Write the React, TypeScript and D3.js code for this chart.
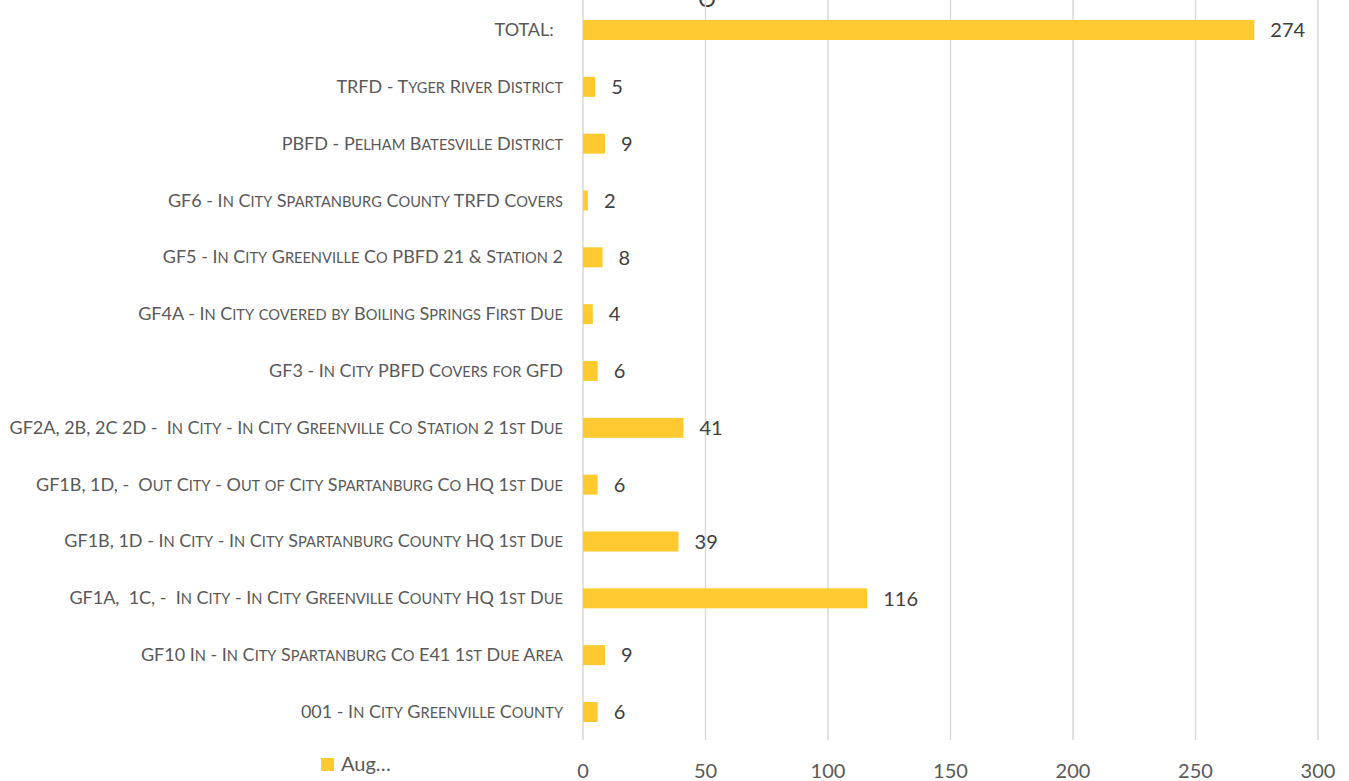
import React, { useEffect, useRef } from "react";
import * as d3 from "d3";

// rows from top to bottom
const categories = [
  "TOTAL:  ",
  "TRFD - Tyger River District",
  "PBFD - Pelham Batesville District",
  "GF6 - In City Spartanburg County TRFD Covers",
  "GF5 - In City Greenville Co PBFD 21 & Station 2",
  "GF4A - In City covered by Boiling Springs First Due",
  "GF3 - In City PBFD Covers for GFD",
  "GF2A, 2B, 2C 2D -  In City - In City Greenville Co Station 2 1st Due",
  "GF1B, 1D, -  Out City - Out of City Spartanburg Co HQ 1st Due",
  "GF1B, 1D - In City - In City Spartanburg County HQ 1st Due",
  "GF1A,  1C, -  In City - In City Greenville County HQ 1st Due",
  "GF10 In - In City Spartanburg Co E41 1st Due Area",
  "001 - In City Greenville County",
];
const augValues = [274, 5, 9, 2, 8, 4, 6, 41, 6, 39, 116, 9, 6];
const xTicks = [0, 50, 100, 150, 200, 250, 300];
const seriesName = "Aug…";

const W = 1349;
const H = 781;
const FONT = "Lato, 'Open Sans', sans-serif";
const BAR = "#ffca30";
const CAP = 18;
const SMALL = 14.6;

// split a label into runs of full caps / small caps (like Excel's small caps)
function smallCapRuns(s: string) {
  const runs: { t: string; small: boolean }[] = [];
  for (const ch of s) {
    const small = ch !== ch.toUpperCase();
    const last = runs[runs.length - 1];
    if (last && last.small === small) last.t += ch.toUpperCase();
    else runs.push({ t: ch.toUpperCase(), small });
  }
  return runs;
}

export default function App() {
  const ref = useRef<SVGSVGElement>(null);

  useEffect(() => {
    const svg = d3.select(ref.current);
    svg.selectAll("*").remove();

    const x = d3.scaleLinear().domain([0, 300]).range([583, 1318]);
    const y = d3
      .scaleBand()
      .domain(categories)
      .range([1.6, 740.4])
      .paddingInner(0.648)
      .paddingOuter(0.324);

    // title cut off at the top edge
    svg
      .append("text")
      .attr("x", 707)
      .attr("y", 7)
      .attr("text-anchor", "middle")
      .attr("font-family", FONT)
      .attr("font-size", 22)
      .attr("fill", "#404040")
      .text("O");

    svg
      .append("g")
      .selectAll("line")
      .data(xTicks)
      .join("line")
      .attr("x1", d => x(d))
      .attr("x2", d => x(d))
      .attr("y1", 0)
      .attr("y2", 740)
      .attr("stroke", "#d9d9d9")
      .attr("stroke-width", 1.5);

    svg
      .append("g")
      .selectAll("text")
      .data(xTicks)
      .join("text")
      .attr("x", d => x(d))
      .attr("y", 778)
      .attr("text-anchor", "middle")
      .attr("font-family", FONT)
      .attr("font-size", 20)
      .attr("fill", "#595959")
      .text(d => d);

    const rows = categories.map((c, i) => ({ c, v: augValues[i] }));

    svg
      .append("g")
      .selectAll("rect")
      .data(rows)
      .join("rect")
      .attr("x", x(0))
      .attr("y", d => y(d.c)!)
      .attr("width", d => x(d.v) - x(0))
      .attr("height", y.bandwidth())
      .attr("fill", BAR);

    svg
      .append("g")
      .selectAll("text")
      .data(rows)
      .join("text")
      .attr("x", d => x(d.v) + 16)
      .attr("y", d => y(d.c)! + y.bandwidth() / 2)
      .attr("dy", "0.36em")
      .attr("font-family", FONT)
      .attr("font-size", 20)
      .attr("fill", "#404040")
      .text(d => d.v);

    const labels = svg
      .append("g")
      .selectAll("text")
      .data(categories)
      .join("text")
      .attr("x", 563)
      .attr("y", d => y(d)! + y.bandwidth() / 2 + 6)
      .attr("text-anchor", "end")
      .attr("font-family", FONT)
      .attr("fill", "#595959")
      .style("white-space", "pre");

    labels
      .selectAll("tspan")
      .data(d => smallCapRuns(d))
      .join("tspan")
      .attr("font-size", d => (d.small ? SMALL : CAP))
      .text(d => d.t);

    // legend
    svg
      .append("rect")
      .attr("x", 321)
      .attr("y", 758)
      .attr("width", 13)
      .attr("height", 13)
      .attr("fill", BAR);
    svg
      .append("text")
      .attr("x", 341)
      .attr("y", 771)
      .attr("font-family", FONT)
      .attr("font-size", 20)
      .attr("fill", "#595959")
      .text(seriesName);
  }, []);

  return (
    <svg
      ref={ref}
      width={W}
      height={H}
      style={{ position: "absolute", left: 0, top: 0, background: "#fff" }}
    />
  );
}
